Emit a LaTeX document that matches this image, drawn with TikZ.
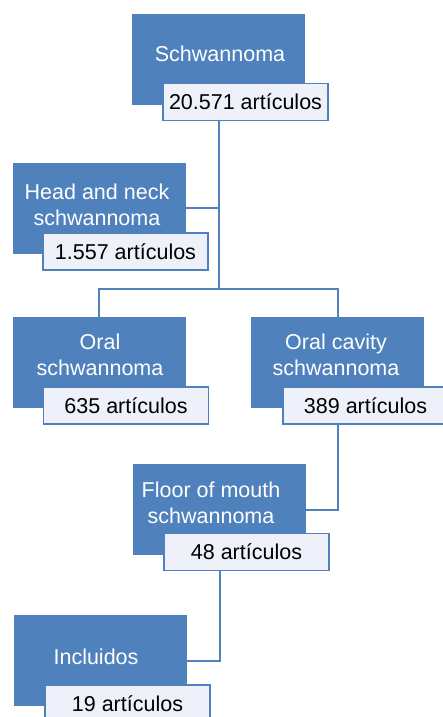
\documentclass[tikz,border=0pt]{standalone}
\usepackage{fontspec}
\setmainfont{Liberation Sans}
\definecolor{boxblue}{HTML}{4F81BD}
\definecolor{labfill}{HTML}{EEF1F9}
\begin{document}
\begin{tikzpicture}[x=1pt,y=-1pt,
  bluebox/.style={fill=boxblue, draw=none, inner sep=0pt, minimum width=173pt, minimum height=91pt},
  lab/.style={fill=labfill, draw=boxblue, line width=1.6pt, inner sep=0pt, minimum width=165pt, minimum height=37pt, font=\fontsize{21.5}{25}\selectfont, text=black},
  txt/.style={text=white, align=center, inner sep=0pt, font=\fontsize{21.5}{25.5}\selectfont},
  conn/.style={draw=boxblue, line width=2pt}]
\useasboundingbox (0,0) rectangle (443,717);
% blue boxes
\node[bluebox] (b1) at (218.5,59.5) {};
\node[bluebox] (b2) at (99,208) {};
\node[bluebox] (b3) at (99,362.5) {};
\node[bluebox] (b4) at (337.5,362.5) {};
\node[bluebox] (b5) at (219.5,509.5) {};
\node[bluebox] (b6) at (100.5,660.5) {};
\coordinate (j1) at (218.5,289);
% connectors
\draw[conn] (b1.center |- 0,121) -- (j1);
\draw[conn] (b2.east) -- (b1.center |- b2.east);
\draw[conn] (b3.north) |- (j1) -| (b4.north);
\draw[conn] (b4.center |- 0,424) |- (b5.east);
\draw[conn] (b5.center |- 0,570) |- (b6.east);
% texts
\node[txt] (t1) at (220,54) {Schwannoma};
\node[txt] (t2) at (97,205) {Head and neck\\schwannoma};
\node[txt] (t3) at (100,355) {Oral\\schwannoma};
\node[txt] (t4) at (336,355) {Oral cavity\\schwannoma};
\node[txt] (t5) at (211,503) {Floor of mouth\\schwannoma};
\node[txt] (t6) at (96,657) {Incluidos};
% labels
\node[lab] (l1) at (245.5,102) {20.571 artículos};
\node[lab] (l2) at (125.5,251.5) {1.557 artículos};
\node[lab] (l3) at (126,405.5) {635 artículos};
\node[lab] (l4) at (365.5,405.5) {389 artículos};
\node[lab] (l5) at (246.5,552) {48 artículos};
\node[lab] (l6) at (127.5,703.5) {19 artículos};
\end{tikzpicture}
\end{document}
